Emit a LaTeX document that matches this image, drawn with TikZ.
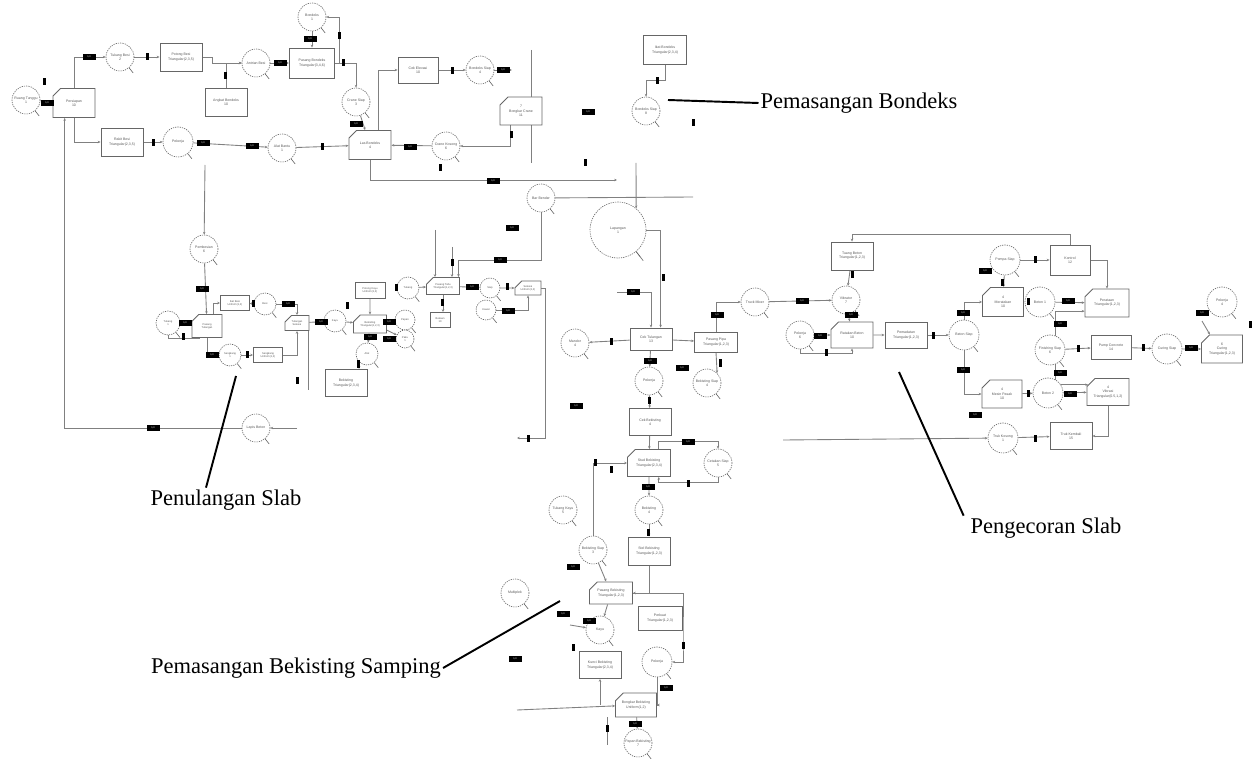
\documentclass[tikz,border=0pt]{standalone}
\usepackage{fontspec}
\setmainfont{Liberation Serif}
\newfontfamily\kecil{Liberation Sans}
\usetikzlibrary{shapes.misc,arrows.meta}
\pgfdeclarelayer{bg}
\pgfsetlayers{bg,main}
\tikzset{
  antrian/.style={circle, draw=black!60, dash pattern=on 0.7pt off 0.6pt, line width=0.35pt, fill=white, minimum size=5.6mm, inner sep=0pt, align=center, text=black!65, font=\kecil\fontsize{2}{2.4}\selectfont},
  ekor/.style={draw=black!60, line width=0.35pt},
  kerja/.style={rectangle, draw=black!60, line width=0.5pt, fill=white, minimum width=8.4mm, minimum height=5.6mm, inner sep=0pt, align=center, text=black!65, font=\kecil\fontsize{2}{2.4}\selectfont},
  kombi/.style={kerja, chamfered rectangle, chamfered rectangle corners=north west, chamfered rectangle xsep=0.8mm, chamfered rectangle ysep=0.8mm},
  mini/.style={font=\kecil\fontsize{1.5}{1.8}\selectfont},
  arus/.style={draw=black!50, line width=0.5pt, -{Stealth[length=1.6pt,width=1.4pt]}},
  garis/.style={draw=black!50, line width=0.5pt},
  tanda/.style={fill=black, minimum width=2.6mm, minimum height=1.3mm, inner sep=0pt, text=white, font=\kecil\fontsize{1.4}{1.4}\selectfont},
  tik/.style={fill=black, minimum width=0.6mm, minimum height=1.4mm, inner sep=0pt},
  judul/.style={inner sep=1pt, font=\fontsize{12.8}{15}\selectfont},
  penunjuk/.style={draw=black, line width=1.1pt}
}
\begin{document}
\begin{tikzpicture}[x=0.2mm,y=-0.2mm]
\useasboundingbox (0,0) rectangle (1254,759);

\node[antrian] (q1) at (26,100) {Ruang Tunggu\\1};
\node[antrian] (q2) at (120,57) {Tukang Besi\\2};
\node[antrian] (q3) at (256,63) {Antrian Besi};
\node[antrian] (q4) at (312,17) {Bondeks\\1};
\node[antrian, minimum size=6mm] (q5) at (178,142) {Pekerja};
\node[antrian] (q6) at (282,148) {Alat Bantu\\1};
\node[antrian] (q7) at (356,102) {Crane Siap\\3};
\node[antrian] (q8) at (480,70) {Bondeks Siap\\4};
\node[antrian] (q9) at (446,146) {Crane Kosong\\6};
\node[antrian] (q10) at (646,111) {Bondeks Siap\\8};
\node[antrian] (q11) at (541,198) {Bar Bender};
\node[antrian, minimum size=11.2mm] (q12) at (618,230) {Lapangan\\1};
\node[antrian] (q13) at (575,343) {Mandor\\4};
\node[antrian] (q14) at (649,381) {Pekerja};
\node[antrian] (q15) at (707,383) {Bekisting Siap\\4};
\node[antrian] (q16) at (755,302) {Truck Mixer};
\node[antrian] (q17) at (846,300) {Vibrator\\7};
\node[antrian] (q18) at (800,335) {Pekerja\\6};
\node[antrian, minimum size=6mm] (q19) at (964,335) {Beton Siap};
\node[antrian, minimum size=6mm] (q20) at (1005,260) {Pompa Siap};
\node[antrian, minimum size=6mm] (q21) at (1040,302) {Beton 1};
\node[antrian, minimum size=6mm] (q22) at (1050,350) {Finishing Siap\\6};
\node[antrian, minimum size=6mm] (q23) at (1167,349) {Curing Siap};
\node[antrian, minimum size=6mm] (q24) at (1222,302) {Pekerja\\4};
\node[antrian, minimum size=6mm] (q25) at (1048,393) {Beton 2};
\node[antrian, minimum size=6mm] (q26) at (1003,438) {Truk Kosong\\1};
\node[antrian] (q27) at (204,249) {Pembesian\\6};
\node[antrian, minimum size=4.8mm, mini] (q28) at (168,323) {Tukang\\1};
\node[antrian, minimum size=4.4mm, mini] (q29) at (265,304) {Besi};
\node[antrian, minimum size=4.4mm, mini] (q30) at (230,355) {Sengkang\\1};
\node[antrian, minimum size=4.4mm, mini] (q31) at (335,321) {Kayu};
\node[antrian, minimum size=4mm, mini] (q32) at (405,320) {Papan};
\node[antrian, minimum size=3.6mm, mini] (q33) at (405,339) {Paku\\1};
\node[antrian, minimum size=4.4mm, mini] (q34) at (367,354) {Alat};
\node[antrian, minimum size=4.4mm, mini] (q35) at (408,288) {Tukang};
\node[antrian, minimum size=4mm, mini] (q36) at (490,288) {Siap};
\node[antrian, minimum size=4mm, mini] (q37) at (486,310) {Kawat};
\node[antrian] (q38) at (256,428) {Lapis Beton};
\node[antrian] (q39) at (718,463) {Cetakan Siap\\5};
\node[antrian] (q40) at (649,510) {Bekisting\\4};
\node[antrian] (q41) at (563,510) {Tukang Kayu\\5};
\node[antrian] (q42) at (593,550) {Bekisting Siap\\3};
\node[antrian] (q43) at (515,593) {Multiplek};
\node[antrian] (q44) at (600,630) {Kayu};
\node[antrian, minimum size=6mm] (q45) at (657,662) {Pekerja};
\node[antrian] (q46) at (638,743) {Papan Bekisting\\7};

\node[kombi, minimum height=5.8mm] (k1) at (74,103) {Persiapan\\10};
\node[kerja] (k2) at (181,57) {Potong Besi\\Triangular(2,3,5)};
\node[kerja] (k3) at (226,102) {Angkat Bondeks\\10};
\node[kerja, minimum width=9mm, minimum height=6mm] (k4) at (312,63) {Pasang Bondeks\\Triangular(3,4,6)};
\node[kerja] (k5) at (122,142) {Rakit Besi\\Triangular(2,3,5)};
\node[kombi, minimum height=5.8mm] (k6) at (370,145) {Las Bondeks\\4};
\node[kerja, minimum width=8mm, minimum height=5.2mm] (k7) at (418,70) {Cek Elevasi\\10};
\node[kombi] (k8) at (521,111) {7\\Bongkar Crane\\11};
\node[kerja, minimum width=8.6mm, minimum height=5.8mm] (k9) at (665,50) {Ikat Bondeks\\Triangular(2,3,4)};
\node[kerja, minimum height=4.4mm] (k10) at (651,339) {Cek Tulangan\\13};
\node[kerja, minimum height=5.4mm] (k11) at (650,422) {Cek Bekisting\\4};
\node[kerja, minimum width=8.6mm, minimum height=4mm] (k12) at (716,342) {Pasang Pipa\\Triangular(1,2,3)};
\node[kerja] (k13) at (852,256) {Tuang Beton\\Triangular(1,2,3)};
\node[kombi, minimum height=5.2mm] (k14) at (852,335) {Ratakan Beton\\10};
\node[kerja, minimum height=5.2mm] (k15) at (906,335) {Pemadatan\\Triangular(1,2,3)};
\node[kombi, minimum width=8.2mm, minimum height=5.8mm] (k16) at (1003,302) {4\\Meratakan\\10};
\node[kerja, minimum width=8mm, minimum height=6mm] (k17) at (1070,260) {Kontrol\\12};
\node[kombi, minimum width=8.8mm] (k18) at (1107,303) {Perataan\\Triangular(1,2,3)};
\node[kerja, minimum width=8mm, minimum height=4.8mm] (k19) at (1111,347) {Pump Concrete\\14};
\node[kombi, minimum width=8.2mm] (k20) at (1222,349) {6\\Curing\\Triangular(1,2,3)};
\node[kombi, minimum width=8mm] (k21) at (1002,394) {4\\Mesin Pasak\\10};
\node[kombi, minimum height=5.4mm] (k22) at (1108,392) {4\\Vibrasi\\Triangular(0.5,1,2)};
\node[kerja, minimum height=5.4mm] (k23) at (1071,436) {Truk Kembali\\15};
\node[kombi, minimum width=6mm, minimum height=4.6mm, mini] (k24) at (207,326) {Pasang\\Tulangan};
\node[kerja, minimum width=5.8mm, minimum height=3mm, mini] (k25) at (235,303) {Ikat Besi\\Uniform(1,2)};
\node[kerja, minimum width=5.8mm, minimum height=3mm, mini] (k26) at (268,355) {Sengkang\\Uniform(1,2)};
\node[kombi, minimum width=4.8mm, minimum height=3mm, mini] (k27) at (297,323) {Tulangan\\Selesai};
\node[kombi, minimum width=6.6mm, minimum height=3.6mm, mini] (k28) at (370,324) {Bekisting\\Triangular(1,2,3)};
\node[kerja, minimum width=6mm, minimum height=3.2mm, mini] (k29) at (370,290) {Potong Kayu\\Uniform(1,2)};
\node[kerja, minimum height=5.4mm] (k30) at (346,383) {Bekisting\\Triangular(2,3,4)};
\node[kombi, minimum width=6.6mm, minimum height=3.4mm, mini] (k31) at (443,286) {Pasang Tahu\\Triangular(1,2,3)};
\node[kerja, minimum width=4mm, minimum height=3mm, mini] (k32) at (440,320) {Bukaan\\10};
\node[kombi, minimum width=5.2mm, minimum height=2.8mm, mini] (k33) at (528,288) {Selesai\\Uniform(1,2)};
\node[kombi, minimum width=8.6mm, minimum height=5.4mm] (k34) at (649,463) {Stud Bekisting\\Triangular(2,3,4)};
\node[kerja] (k35) at (649,551) {Stel Bekisting\\Triangular(1,2,3)};
\node[kombi, minimum width=8.6mm, minimum height=4.4mm] (k36) at (611,593) {Pasang Bekisting\\Triangular(1,2,3)};
\node[kerja, minimum width=8.8mm, minimum height=4.8mm] (k37) at (660,618) {Perkuat\\Triangular(1,2,3)};
\node[kerja, minimum height=5.4mm] (k38) at (600,665) {Kunci Bekisting\\Triangular(2,3,4)};
\node[kombi, minimum width=8.2mm, minimum height=4.8mm] (k39) at (636,705) {Bongkar Bekisting\\Uniform(1,2)};

\foreach \i in {1,...,46} \draw[ekor] (q\i.-50) -- ++(4,5);
\draw[ekor] (q12.-50) -- ++(7,9);

\coordinate (u1) at (205,165);
\coordinate (u2) at (297,428);
\coordinate (u3) at (512,70);
\coordinate (u4) at (617,180);
\coordinate (u5) at (531,50);
\coordinate (u6) at (531,163);
\coordinate (u8) at (693,197);
\coordinate (u9) at (636,163);
\coordinate (u10) at (617,292);
\coordinate (u11) at (1202,321);
\coordinate (u12) at (783,440);
\coordinate (u13) at (308,330);
\coordinate (u14) at (308,390);
\coordinate (u15) at (517,438);
\coordinate (u17) at (435,230);
\coordinate (u18) at (452,247);
\coordinate (u19) at (683,640);
\coordinate (u20) at (570,625);
\coordinate (u21) at (517,710);
\coordinate (u22) at (607,717);
\coordinate (u23) at (607,745);

\begin{pgfonlayer}{bg}
\draw[arus] (q1) -- (k1);
\draw[arus] (k1.north) |- (q2);
\draw[arus] (k1.south) |- (k5);
\draw[arus] (q2) -- (k2);
\draw[arus] (k2.east) -- ++(10,0) |- (q3);
\draw[arus] (k3.north) |- (q3);
\draw[arus] (q3) -- (k4);
\draw[arus] (q4) -- (k4);
\draw[arus] (k4.east) -- ++(4,0) |- (q4);
\draw[arus] (k4.east) -| (q7);
\draw[arus] (q7) -- (k6);
\draw[arus] (q6) -- (k6);
\draw[arus] (k5) -- (q5);
\draw[arus] (q5) -- (q6);
\draw[arus] (u1) -- (q27);
\draw[arus] (q38) -| (k1.238);
\draw[arus] (u2) -- (q38);
\draw[arus] (k6.60) |- (k7);
\draw[arus] (k7) -- (q8);
\draw[arus] (q8) -- (u3);
\draw[arus] (k8.235) |- (q9);
\draw[arus] (q9) -- (k6);
\draw[arus] (k6.south) |- (u4);
\draw[garis] (u5) -- (u6);
\draw[arus] (k9.south) -- ++(0,16) -| (q10);
\draw[garis] (q11) -- (u8);
\draw[arus] (u9) -- (q12.50);
\draw[arus] (q11.south) -- ++(0,48) -| (k31.30);
\draw[arus] (q12.east) -| (k10.50);
\draw[arus] (u10) -| (k10.north);
\draw[arus] (k10) -- (q14);
\draw[arus] (q14) -- (k11);
\draw[arus] (k10) -- (q13);
\draw[arus] (k10) -- (k12);
\draw[arus] (k12.south) -- (q15.north east);
\draw[arus] (k12.north) |- (q16);
\draw[arus] (k11) -- (k34);
\draw[arus] (q16) -- (q17);
\draw[arus] (k13) -- (q17);
\draw[arus] (k17.north) -- ++(0,-10) -| (k13.north);
\draw[arus] (q17) -- (k14);
\draw[arus] (q18) -- (k14);
\draw[arus] (q18.south) -- ++(0,4) -| (k14.south);
\draw[arus] (k14) -- (k15);
\draw[arus] (k15) -- (q19);
\draw[arus] (q19.north) |- (k16);
\draw[arus] (q19.south) |- (k21);
\draw[arus] (q20) -- (k16);
\draw[arus] (q20) -- (k17);
\draw[arus] (k16) -- (q21);
\draw[arus] (k17.east) -| (k18.north);
\draw[arus] (q21) -- (k18);
\draw[arus] (q22.70) |- (k18.200);
\draw[arus] (q22.-70) |- (k22.160);
\draw[arus] (q22) -- (k19);
\draw[arus] (k19) -- (q23);
\draw[arus] (q23) -- (k20);
\draw[arus] (u11) -- (k20.130);
\draw[arus] (k21) -- (q25);
\draw[arus] (q25) -- (k22);
\draw[arus] (k22.south) |- (k23);
\draw[arus] (q26) -- (k23);
\draw[arus] (u12) -- (q26);
\draw[arus] (q27) -- (k24);
\draw[arus] (q28) -- (k24);
\draw[garis] (q28.south) |- (k24.240);
\draw[arus] (k24.60) |- (k25);
\draw[arus] (k25) -- (q29);
\draw[arus] (q29) -| (k27);
\draw[arus] (k24.south) |- (q30);
\draw[arus] (q30) -- (k26);
\draw[arus] (k26) -| (k27);
\draw[arus] (k27) -- (q31);
\draw[garis] (u13) -- (u14);
\draw[arus] (q31) -- (k28);
\draw[arus] (k29) -- (k28);
\draw[arus] (k28) -- (q32);
\draw[arus] (k28.-20) -- (q33);
\draw[arus] (k28) -- (q34);
\draw[arus] (q34.south west) -- (q34.south west |- k30.north);
\draw[arus] (q35) -- (k31);
\draw[arus] (k31) -- (q36);
\draw[arus] (q36) -- (k33);
\draw[arus] (k31.south) -- (k31.south |- k32.north);
\draw[arus] (q37) -| (k33);
\draw[arus] (k33.east) -- ++(4,0) |- (u15);
\draw[arus] (u17) -- (u17 |- k31.north);
\draw[arus] (u18) -- (u18 |- k31.north);
\draw[arus] (k34.55) -- ++(0,-8) -| (q39);
\draw[arus] (q39.south) -- ++(0,5) -| (k34.-55);
\draw[arus] (k34) -- (q40);
\draw[arus] (q40) -- (k35);
\draw[arus] (q42) |- (k34);
\draw[arus] (k35) |- (k36);
\draw[arus] (k36) -| (u19) |- (q45);
\draw[arus] (q42) -- (k36);
\draw[arus] (k36) -- (q44);
\draw[arus] (u20) -- (q44);
\draw[arus] (u21) -- (k39);
\draw[arus] (k38.south |- k39.west) -- (k38);
\draw[arus] (q45) |- (k39);
\draw[arus] (k39) -- (q46);
\draw[garis] (u22) -- (u23);
\end{pgfonlayer}

\foreach \x/\y [count=\i] in {47/103, 89/57, 280/63, 310/39, 203/143, 252/146, 356/124, 410/147, 503/70, 493/181, 588/112, 153/428, 202/289, 185/323, 212/355, 288/304, 321/322, 370/337, 389/339, 389/322, 472/287, 508/311, 500/260, 512/228, 633/292, 650/361, 682/368, 576/406, 717/315, 802/301, 851/315, 820/336, 963/313, 963/370, 985/271, 1068/301, 1060/324, 1060/373, 1070/394, 975/415, 1191/348, 1202/313, 688/442, 648/487, 573/567, 563/614, 589/621, 515/659, 666/688, 635/724}
  \node[tanda] (t\i) at (\x,\y) {1,0};

\foreach \x/\y [count=\i] in {44/82, 147/57, 225/76, 153/143, 339/36, 343/63, 452/71, 322/147, 440/168, 511/135, 585/163, 657/81, 693/123, 183/337, 247/355, 253/304, 347/306, 358/364, 452/263, 442/303, 507/287, 396/288, 297/380, 528/438, 611/342, 663/278, 720/363, 649/400, 852/275, 826/353, 933/336, 1035/260, 1002/283, 1028/302, 1078/349, 1028/393, 1035/438, 1143/348, 1250/325, 595/462, 611/469, 688/483, 648/532, 573/647, 683/645, 607/728}
  \node[tik] (g\i) at (\x,\y) {};

\node[judul] (l1) at (859,103) {Pemasangan Bondeks};
\node[judul] (l2) at (226,500) {Penulangan Slab};
\node[judul] (l3) at (1046,528) {Pengecoran Slab};
\node[judul] (l4) at (296,668) {Pemasangan Bekisting Samping};

\coordinate (p1) at (668,100);
\coordinate (p2) at (236,376);
\coordinate (p3) at (899,372);
\coordinate (p4) at (560,601);
\draw[penunjuk] (p1) -- (l1.west);
\draw[penunjuk] (p2) -- ([xshift=-4mm]l2.north);
\draw[penunjuk] (p3) -- ([xshift=-1mm]l3.north west);
\draw[penunjuk] (p4) -- (l4.east);
\end{tikzpicture}
\end{document}
